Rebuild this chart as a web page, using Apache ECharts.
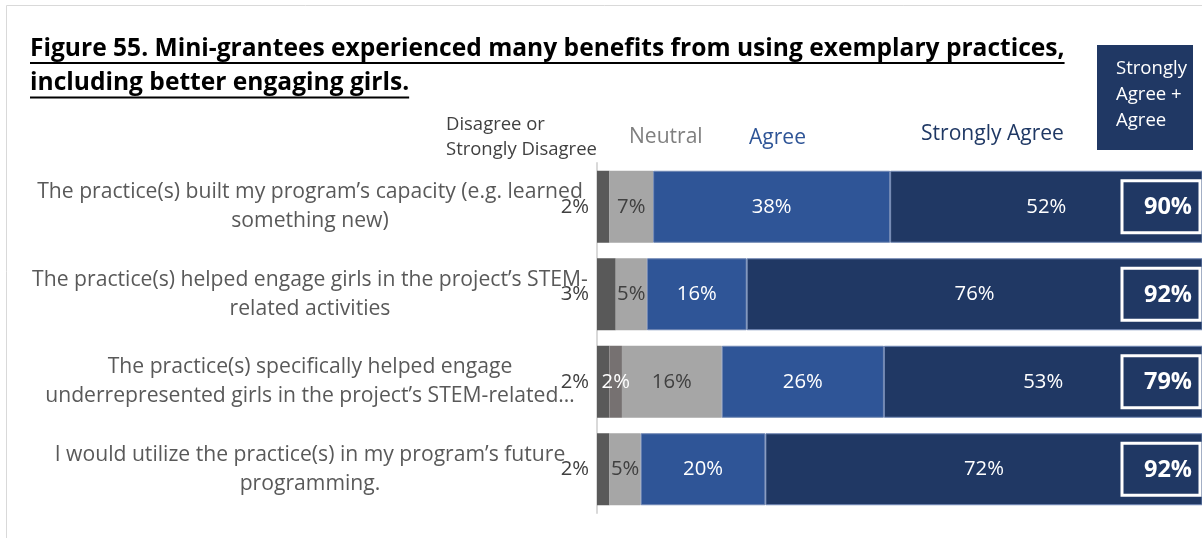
<!DOCTYPE html>
<html><head><meta charset="utf-8">
<script src="https://cdn.jsdelivr.net/npm/echarts@6/dist/echarts.min.js"></script>
<style>html,body{margin:0;padding:0;background:#fff}#c{width:1202px;height:538px}</style>
</head><body><div id="c"></div>
<script>
const categories = [
  "The practice(s) built my program\u2019s capacity (e.g. learned\nsomething new)",
  "The practice(s) helped engage girls in the project\u2019s STEM-\nrelated activities",
  "The practice(s) specifically helped engage\nunderrepresented girls in the project\u2019s STEM-related\u2026",
  "I would utilize the practice(s) in my program\u2019s future\nprogramming."
];
const disagreeVals = [2, 3, 2, 2];
const strongDisVals = [0, 0, 2, 0];
const neutralVals = [7, 5, 16, 5];
const agreeVals = [38, 16, 26, 20];
const strongAgreeVals = [52, 76, 53, 72];
const totalVals = [90, 92, 79, 92];
const titleLines = ["Figure 55. Mini-grantees experienced many benefits from using exemplary practices,", "including better engaging girls."];

const FONT = "'Open Sans', Lato, sans-serif";
const chart = echarts.init(document.getElementById('c'));

const ctx = document.createElement('canvas').getContext('2d');
function fit(text, target, bold) {
  ctx.font = (bold ? 'bold ' : '') + '20px ' + FONT;
  return +(20 * target / ctx.measureText(text).width).toFixed(2);
}
const titleSize = fit(titleLines[0], 1035, true);
const catSize = fit("The practice(s) built my program\u2019s capacity (e.g. learned", 546);
const lblSize = fit("38%", 40);
const totSize = fit("90%", 48, true);
const legSize = fit("Strongly Agree", 143);
const disSize = fit("Strongly Disagree", 151);
const boxSize = fit("Strongly", 71);
ctx.font = 'bold ' + titleSize + 'px ' + FONT;
const tw1 = ctx.measureText(titleLines[0]).width;
const tw2 = ctx.measureText(titleLines[1]).width;

const pct = p => p.value > 0 ? p.value + '%' : '';
function seg(name, data, color, labelColor, pos, extra) {
  return Object.assign({
    name, type: 'bar', stack: 'all', data, barWidth: 72,
    itemStyle: { color },
    label: { show: true, position: pos || 'inside', distance: 8, color: labelColor, fontSize: lblSize, fontFamily: FONT, formatter: pct },
    emphasis: { disabled: true }
  }, extra || {});
}

chart.setOption({
  animation: false,
  grid: { left: 597, top: 163, right: 0, height: 350, containLabel: false },
  xAxis: { type: 'value', min: 0, max: 97, show: false },
  yAxis: {
    type: 'category', inverse: true, data: categories,
    axisLine: { show: true, lineStyle: { color: '#d9d9d9', width: 2 } },
    axisTick: { show: false },
    axisLabel: { align: 'center', margin: 287, fontSize: catSize, lineHeight: 29, color: '#595959', fontFamily: FONT }
  },
  series: [
    seg('Strongly Disagree', disagreeVals, '#595959', '#404040', 'left'),
    seg('Disagree', strongDisVals, '#767171', '#ffffff'),
    seg('Neutral', neutralVals, '#a6a6a6', '#404040'),
    seg('Agree', agreeVals, '#2f5597', '#ffffff', 'inside', { itemStyle: { color: '#2f5597', borderColor: '#6f86b3', borderWidth: 1 } }),
    seg('Strongly Agree', strongAgreeVals, '#203864', '#ffffff', 'inside', { itemStyle: { color: '#203864', borderColor: '#6f86b3', borderWidth: 1 } }),
    {
      type: 'custom', name: 'Total', data: totalVals.map((v, i) => [v, i]),
      renderItem: function (params, api) {
        const y = api.coord([0, api.value(1)])[1];
        const W = api.getWidth();
        return {
          type: 'group', children: [
            { type: 'rect', shape: { x: W - 80, y: y - 26, width: 78, height: 52 }, style: { fill: 'none', stroke: '#ffffff', lineWidth: 3 } },
            { type: 'text', style: { x: W - 10, y: y + 1, text: api.value(0) + '%', fill: '#ffffff', font: 'bold ' + totSize + 'px ' + FONT, textAlign: 'right', textVerticalAlign: 'middle' } }
          ]
        };
      },
      z: 10
    }
  ],
  graphic: [
    { type: 'line', shape: { x1: 6.5, y1: 5.5, x2: 1202, y2: 5.5 }, style: { stroke: '#d9d9d9', lineWidth: 1 } },
    { type: 'line', shape: { x1: 6.5, y1: 5.5, x2: 6.5, y2: 538 }, style: { stroke: '#d9d9d9', lineWidth: 1 } },
    { type: 'text', x: 30, y: 49, style: { text: titleLines[0], font: 'bold ' + titleSize + 'px ' + FONT, fill: '#000', textVerticalAlign: 'middle' } },
    { type: 'text', x: 30, y: 83, style: { text: titleLines[1], font: 'bold ' + titleSize + 'px ' + FONT, fill: '#000', textVerticalAlign: 'middle' } },
    { type: 'line', shape: { x1: 30, y1: 63, x2: 30 + tw1, y2: 63 }, style: { stroke: '#000', lineWidth: 2 } },
    { type: 'line', shape: { x1: 30, y1: 97.5, x2: 30 + tw2, y2: 97.5 }, style: { stroke: '#000', lineWidth: 2 } },
    { type: 'text', x: 446, y: 137, style: { text: 'Disagree or\nStrongly Disagree', font: disSize + 'px ' + FONT, lineHeight: 25, fill: '#404040', textVerticalAlign: 'middle' } },
    { type: 'text', x: 629, y: 137, style: { text: 'Neutral', font: legSize + 'px ' + FONT, fill: '#7f7f7f', textVerticalAlign: 'middle' } },
    { type: 'text', x: 749, y: 138, style: { text: 'Agree', font: legSize + 'px ' + FONT, fill: '#2f5597', textVerticalAlign: 'middle' } },
    { type: 'text', x: 921, y: 134, style: { text: 'Strongly Agree', font: legSize + 'px ' + FONT, fill: '#1f3864', textVerticalAlign: 'middle' } },
    { type: 'rect', shape: { x: 1097, y: 45, width: 96, height: 105 }, style: { fill: '#203864' } },
    { type: 'text', x: 1116, y: 95, style: { text: 'Strongly\nAgree +\nAgree', font: boxSize + 'px ' + FONT, lineHeight: 26, fill: '#ffffff', textVerticalAlign: 'middle' } }
  ]
});
</script></body></html>
